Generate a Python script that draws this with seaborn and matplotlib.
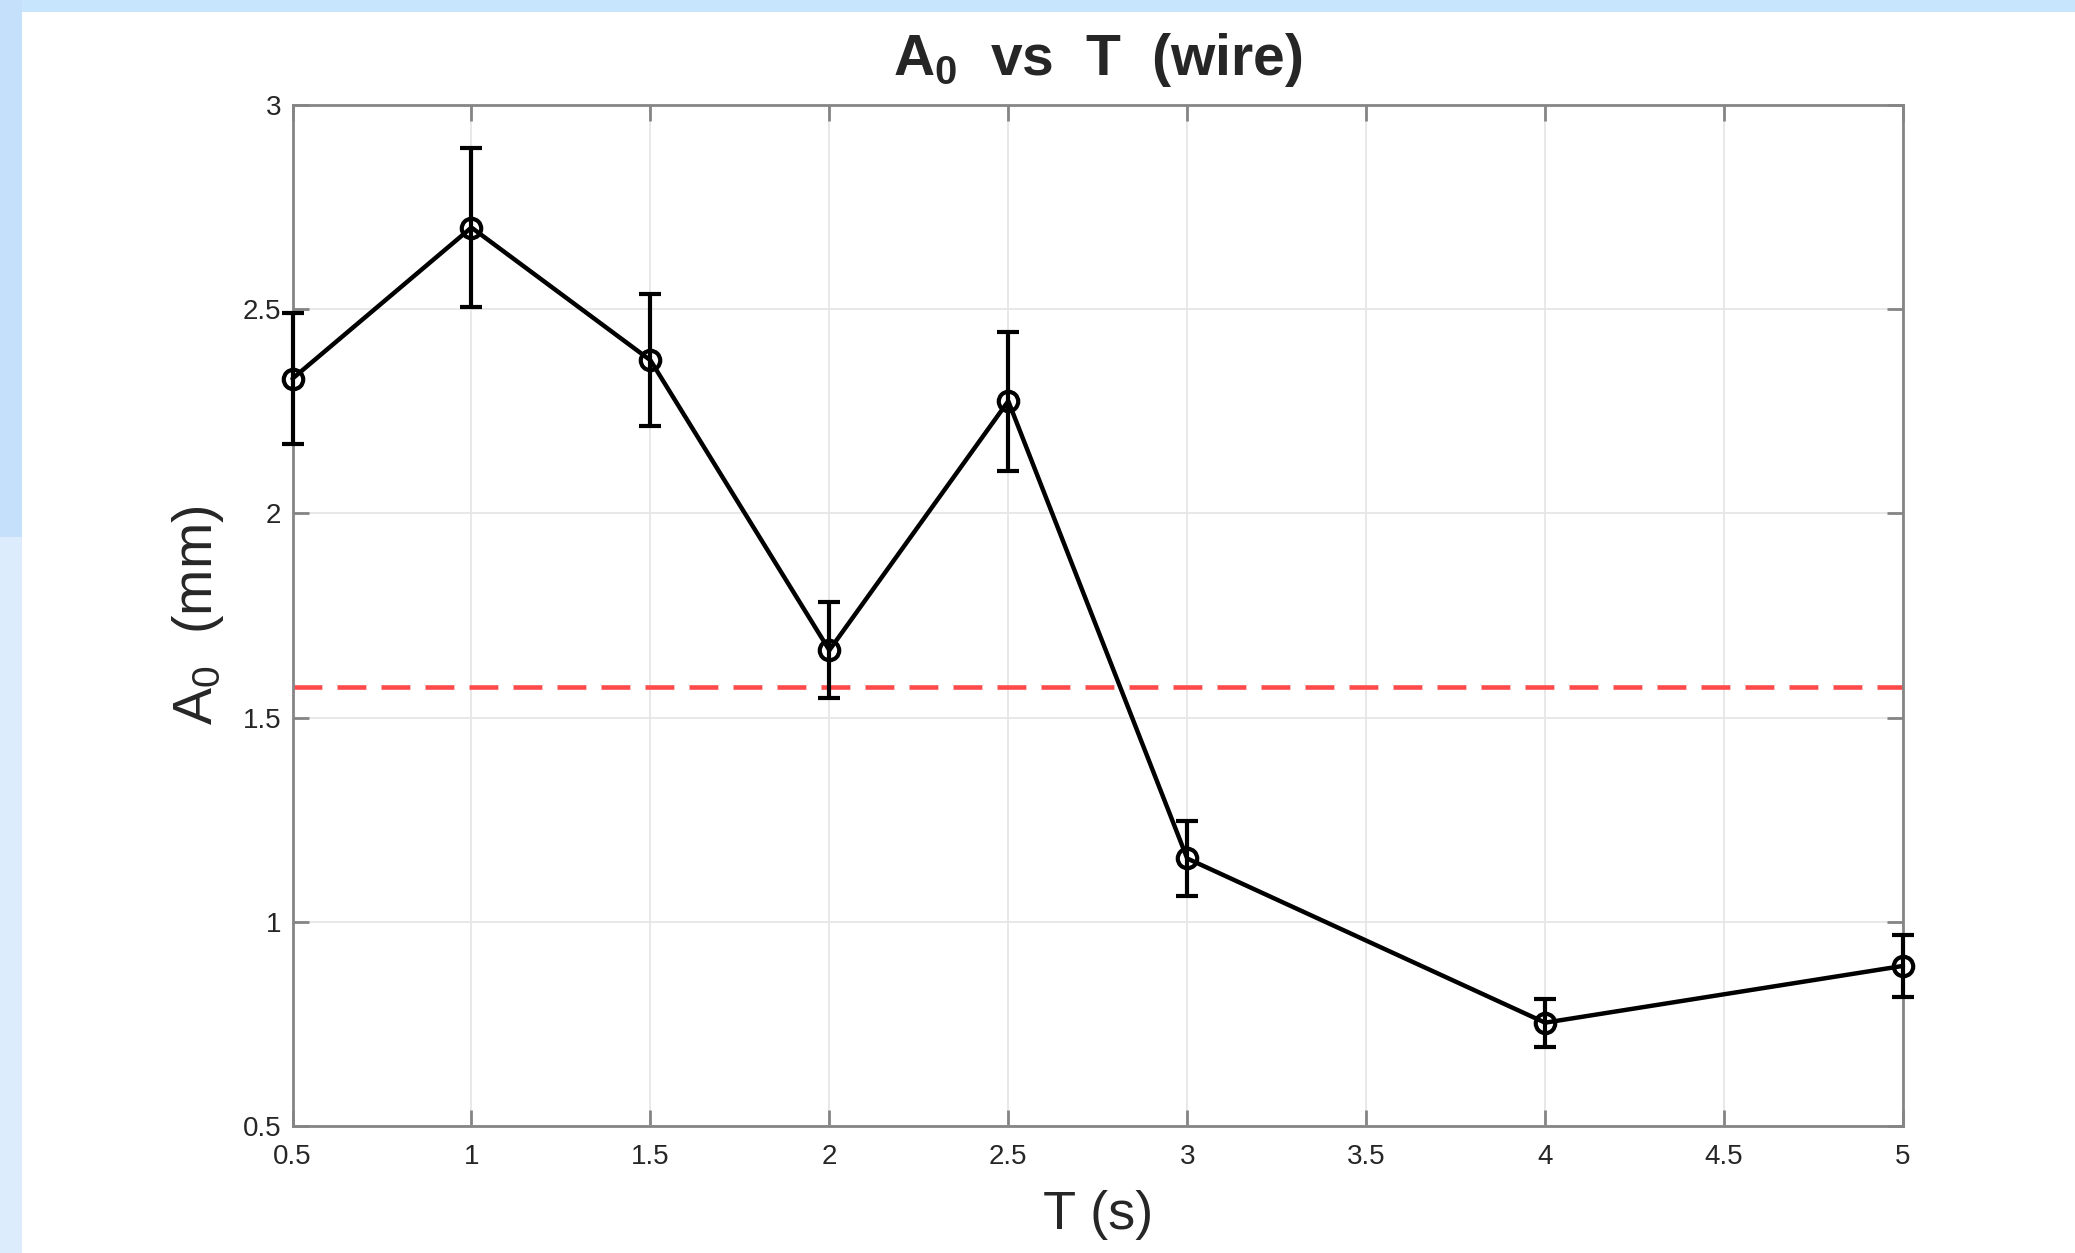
import matplotlib
matplotlib.use("Agg")
import matplotlib.pyplot as plt
from matplotlib.patches import Rectangle
import seaborn as sns
import pandas as pd

# Measured oscillation amplitude of the wire vs period
period_s = [0.5, 1.0, 1.5, 2.0, 2.5, 3.0, 4.0, 5.0]
amplitude_mm = [2.33, 2.70, 2.375, 1.665, 2.275, 1.155, 0.753, 0.892]
amplitude_err = [0.16, 0.195, 0.162, 0.117, 0.17, 0.093, 0.059, 0.075]
reference_level = 1.575

x_ticks = [0.5, 1, 1.5, 2, 2.5, 3, 3.5, 4, 4.5, 5]
x_tick_labels = ["0.5", "1", "1.5", "2", "2.5", "3", "3.5", "4", "4.5", "5"]
y_ticks = [0.5, 1, 1.5, 2, 2.5, 3]
y_tick_labels = ["0.5", "1", "1.5", "2", "2.5", "3"]

df = pd.DataFrame({"T": period_s, "A0": amplitude_mm, "err": amplitude_err})

sns.set_theme(style="white")
plt.rcParams["font.family"] = ["Liberation Sans", "DejaVu Sans"]
plt.rcParams["mathtext.fontset"] = "custom"
plt.rcParams["mathtext.rm"] = "Liberation Sans"
plt.rcParams["mathtext.it"] = "Liberation Sans"
plt.rcParams["mathtext.bf"] = "Liberation Sans:bold"

W, H = 2075, 1253
fig = plt.figure(figsize=(W / 100, H / 100), dpi=100, facecolor="white")

# light blue window frame around the figure
fig.patches.append(Rectangle((0, 1 - 12 / H), 1, 12 / H, transform=fig.transFigure,
                             facecolor="#c7e5fc", edgecolor="none", zorder=0))
fig.patches.append(Rectangle((0, 1 - 537 / H), 22 / W, 537 / H, transform=fig.transFigure,
                             facecolor="#c5e0fb", edgecolor="none", zorder=0))
fig.patches.append(Rectangle((0, 0), 22 / W, 1 - 537 / H, transform=fig.transFigure,
                             facecolor="#dcecfd", edgecolor="none", zorder=0))

left, right, top, bottom = 292.5, 1903, 105, 1126
ax = fig.add_axes([left / W, 1 - bottom / H, (right - left) / W, (bottom - top) / H])
ax.set_facecolor("white")

text_col = "#262626"
axis_col = "#858585"

# grid
ax.grid(True, color="#e6e6e6", linewidth=1.3)
ax.set_axisbelow(True)

# reference level
ax.plot([0.5, 5], [reference_level, reference_level], color="#ff4a4a",
        linewidth=3.3, dashes=(6.3, 3.3), zorder=2)

# error bars
eb = ax.errorbar(df["T"], df["A0"], yerr=df["err"], fmt="none", ecolor="black",
                 elinewidth=3.0, capsize=8, capthick=3.0, zorder=3)
for art in eb.lines[1] + eb.lines[2]:
    art.set_clip_on(False)

# data line with open circles
sns.lineplot(data=df, x="T", y="A0", ax=ax, color="black", linewidth=3.2,
             marker="o", markersize=14, markerfacecolor="none",
             markeredgecolor="black", markeredgewidth=3.0, zorder=4,
             clip_on=False)

ax.set_xlim(0.5, 5)
ax.set_ylim(0.5, 3)
ax.set_xticks(x_ticks)
ax.set_xticklabels(x_tick_labels)
ax.set_yticks(y_ticks)
ax.set_yticklabels(y_tick_labels)

ax.tick_params(axis="both", which="major", direction="in", length=11.5, width=2,
               color=axis_col, labelsize=20, labelcolor=text_col,
               top=True, right=True, bottom=True, left=True)
ax.tick_params(axis="x", pad=13)
ax.tick_params(axis="y", pad=8)

for sp in ax.spines.values():
    sp.set_visible(True)
    sp.set_color(axis_col)
    sp.set_linewidth(2.0)

ax.set_xlabel("T (s)", fontsize=39, color=text_col, labelpad=14)
ax.set_ylabel(r"A$_0$  (mm)", fontsize=40, color=text_col, labelpad=12)

fig.text((left + right) / 2 / W, 1 - 75 / H, r"A$_\mathbf{0}$  vs  T  (wire)",
         ha="center", va="baseline", fontsize=41, fontweight="bold", color=text_col)

fig.savefig("out.png", dpi=100, facecolor=fig.get_facecolor())
